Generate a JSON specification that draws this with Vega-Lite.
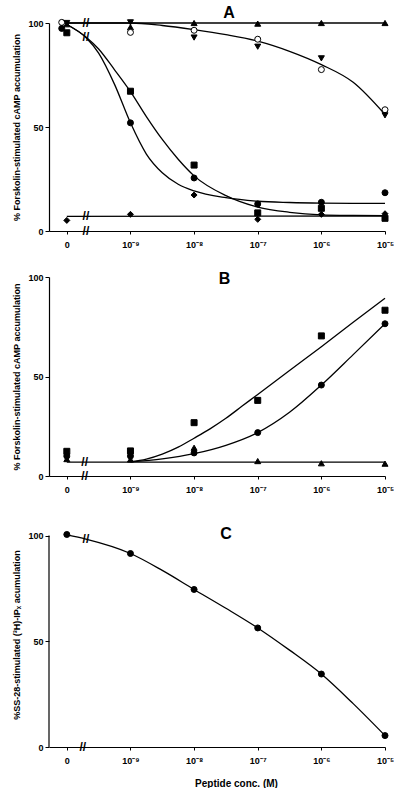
{
  "$schema": "https://vega.github.io/schema/vega-lite/v6.json",
  "padding": {"left": 12, "top": 4, "right": 0, "bottom": 0},
  "bounds": "flush",
  "spacing": 46,
  "datasets": {
    "A_pts": [
      {"s": "tri_up", "x": 0, "y": 99.4}, {"s": "tri_up", "x": 1, "y": 98}, {"s": "tri_up", "x": 2, "y": 100}, {"s": "tri_up", "x": 3, "y": 99.7}, {"s": "tri_up", "x": 4, "y": 100}, {"s": "tri_up", "x": 5, "y": 100},
      {"s": "open_circle", "x": -0.08, "y": 100.3}, {"s": "open_circle", "x": 1, "y": 95.5}, {"s": "open_circle", "x": 2, "y": 96.5}, {"s": "open_circle", "x": 3, "y": 92.2}, {"s": "open_circle", "x": 4, "y": 77.6}, {"s": "open_circle", "x": 5, "y": 58.3},
      {"s": "tri_down", "x": 0, "y": 100}, {"s": "tri_down", "x": 1, "y": 100.3}, {"s": "tri_down", "x": 2, "y": 93}, {"s": "tri_down", "x": 3, "y": 88.6}, {"s": "tri_down", "x": 4, "y": 83}, {"s": "tri_down", "x": 5, "y": 55.6},
      {"s": "square", "x": 0, "y": 95.3}, {"s": "square", "x": 1, "y": 67.2}, {"s": "square", "x": 2, "y": 31.7}, {"s": "square", "x": 3, "y": 8.7}, {"s": "square", "x": 4, "y": 10.9}, {"s": "square", "x": 5, "y": 6.1},
      {"s": "circle", "x": -0.08, "y": 97.4}, {"s": "circle", "x": 1, "y": 52}, {"s": "circle", "x": 2, "y": 25.5}, {"s": "circle", "x": 3, "y": 13}, {"s": "circle", "x": 4, "y": 13.8}, {"s": "circle", "x": 5, "y": 18.4},
      {"s": "diamond", "x": 0, "y": 5.1}, {"s": "diamond", "x": 1, "y": 8}, {"s": "diamond", "x": 2, "y": 17.3}, {"s": "diamond", "x": 3, "y": 5.6}, {"s": "diamond", "x": 4, "y": 8}, {"s": "diamond", "x": 5, "y": 8.3}
    ],
    "A_lines": [
      {"c": "top", "x": 0, "y": 100}, {"c": "top", "x": 5, "y": 100},
      {"c": "open", "x": 0, "y": 100}, {"c": "open", "x": 1, "y": 100}, {"c": "open", "x": 1.5, "y": 98.8}, {"c": "open", "x": 2, "y": 96.8}, {"c": "open", "x": 2.5, "y": 94.4}, {"c": "open", "x": 3, "y": 91.3}, {"c": "open", "x": 3.5, "y": 86.4}, {"c": "open", "x": 4, "y": 80}, {"c": "open", "x": 4.5, "y": 71.5}, {"c": "open", "x": 5, "y": 56},
      {"c": "sq", "x": 0, "y": 99.3}, {"c": "sq", "x": 0.3, "y": 93.3}, {"c": "sq", "x": 0.5, "y": 87.5}, {"c": "sq", "x": 0.75, "y": 77.5}, {"c": "sq", "x": 1, "y": 67}, {"c": "sq", "x": 1.25, "y": 55}, {"c": "sq", "x": 1.5, "y": 44}, {"c": "sq", "x": 1.75, "y": 34.5}, {"c": "sq", "x": 2, "y": 26.5}, {"c": "sq", "x": 2.5, "y": 17}, {"c": "sq", "x": 3, "y": 11.5}, {"c": "sq", "x": 3.5, "y": 9}, {"c": "sq", "x": 4, "y": 7.8}, {"c": "sq", "x": 4.5, "y": 7.5}, {"c": "sq", "x": 5, "y": 7.4},
      {"c": "circ", "x": 0, "y": 99.3}, {"c": "circ", "x": 0.3, "y": 93}, {"c": "circ", "x": 0.5, "y": 85.5}, {"c": "circ", "x": 0.75, "y": 70.5}, {"c": "circ", "x": 1, "y": 52}, {"c": "circ", "x": 1.25, "y": 37}, {"c": "circ", "x": 1.5, "y": 28}, {"c": "circ", "x": 1.75, "y": 22.5}, {"c": "circ", "x": 2, "y": 19.3}, {"c": "circ", "x": 2.5, "y": 16}, {"c": "circ", "x": 3, "y": 14.3}, {"c": "circ", "x": 3.5, "y": 13.7}, {"c": "circ", "x": 4, "y": 13.4}, {"c": "circ", "x": 4.5, "y": 13.3}, {"c": "circ", "x": 5, "y": 13.3},
      {"c": "bottom", "x": 0, "y": 7}, {"c": "bottom", "x": 5, "y": 7.2}
    ],
    "A_breaks": [
      {"x": 0.3, "y": 100}, {"x": 0.3, "y": 93.2}, {"x": 0.3, "y": 7}, {"x": 0.3, "y": 0}
    ],
    "B_pts": [
      {"s": "square", "x": 0, "y": 12.4}, {"s": "square", "x": 1, "y": 12.6}, {"s": "square", "x": 2, "y": 26.8}, {"s": "square", "x": 3, "y": 38}, {"s": "square", "x": 4, "y": 70.4}, {"s": "square", "x": 5, "y": 83.3},
      {"s": "circle", "x": 0, "y": 10}, {"s": "circle", "x": 1, "y": 10}, {"s": "circle", "x": 2, "y": 11.6}, {"s": "circle", "x": 3, "y": 21.8}, {"s": "circle", "x": 4, "y": 45.7}, {"s": "circle", "x": 5, "y": 76.5},
      {"s": "tri_up", "x": 0, "y": 8.5}, {"s": "tri_up", "x": 1, "y": 8.3}, {"s": "tri_up", "x": 2, "y": 14.2}, {"s": "tri_up", "x": 3, "y": 7.5}, {"s": "tri_up", "x": 4, "y": 6.4}, {"s": "tri_up", "x": 5, "y": 6.2}
    ],
    "B_lines": [
      {"c": "flat", "x": 0, "y": 7}, {"c": "flat", "x": 5, "y": 7},
      {"c": "sq", "x": 1, "y": 7.2}, {"c": "sq", "x": 1.25, "y": 8.5}, {"c": "sq", "x": 1.5, "y": 11}, {"c": "sq", "x": 1.75, "y": 14.5}, {"c": "sq", "x": 2, "y": 19}, {"c": "sq", "x": 2.25, "y": 23.7}, {"c": "sq", "x": 2.5, "y": 29}, {"c": "sq", "x": 2.75, "y": 35}, {"c": "sq", "x": 3, "y": 41}, {"c": "sq", "x": 3.5, "y": 53}, {"c": "sq", "x": 4, "y": 65}, {"c": "sq", "x": 4.5, "y": 77.3}, {"c": "sq", "x": 5, "y": 89.3},
      {"c": "circ", "x": 1, "y": 7.1}, {"c": "circ", "x": 1.5, "y": 8.6}, {"c": "circ", "x": 2, "y": 11.2}, {"c": "circ", "x": 2.5, "y": 15.4}, {"c": "circ", "x": 3, "y": 21.8}, {"c": "circ", "x": 3.5, "y": 32}, {"c": "circ", "x": 4, "y": 45.7}, {"c": "circ", "x": 4.5, "y": 61}, {"c": "circ", "x": 5, "y": 76.5}
    ],
    "B_breaks": [
      {"x": 0.28, "y": 7}, {"x": 0.28, "y": 0}
    ],
    "C_pts": [
      {"s": "circle", "x": 0, "y": 100.5}, {"s": "circle", "x": 1, "y": 91.5}, {"s": "circle", "x": 2, "y": 74.5}, {"s": "circle", "x": 3, "y": 56.3}, {"s": "circle", "x": 4, "y": 34.5}, {"s": "circle", "x": 5, "y": 5.4}
    ],
    "C_lines": [
      {"c": "fit", "x": 0, "y": 100.3}, {"c": "fit", "x": 0.3, "y": 98.3}, {"c": "fit", "x": 1, "y": 91.5}, {"c": "fit", "x": 1.5, "y": 83.5}, {"c": "fit", "x": 2, "y": 74.5}, {"c": "fit", "x": 2.5, "y": 65.6}, {"c": "fit", "x": 3, "y": 56.3}, {"c": "fit", "x": 3.5, "y": 45.8}, {"c": "fit", "x": 4, "y": 34.5}, {"c": "fit", "x": 4.5, "y": 20.5}, {"c": "fit", "x": 5, "y": 5.4}
    ],
    "C_breaks": [
      {"x": 0.3, "y": 98.2}, {"x": 0.25, "y": 0}
    ],
    "labels": [
      {"panel": "A", "x": 2.55, "y": 102.5},
      {"panel": "B", "x": 2.48, "y": 96.3},
      {"panel": "C", "x": 2.5, "y": 98.2}
    ]
  },
  "vconcat": [
    {
      "width": 336,
      "height": 208,
      "layer": [
        {
          "data": {"name": "A_lines"},
          "mark": {"type": "line", "interpolate": "monotone", "color": "black", "strokeWidth": 1.3},
          "encoding": {
            "x": {"field": "x", "type": "quantitative", "scale": {"domain": [-0.28, 5], "nice": false, "zero": false},
                  "axis": {"values": [0, 1, 2, 3, 4, 5], "labelExpr": "datum.value == 0 ? '0' : '10' + ['', '⁻⁹', '⁻⁸', '⁻⁷', '⁻⁶', '⁻⁵'][datum.value]", "tickSize": 3, "labelPadding": 6, "labelFlush": false, "title": null}},
            "y": {"field": "y", "type": "quantitative", "scale": {"domain": [0, 100], "nice": false},
                  "axis": {"values": [0, 50, 100], "tickSize": 4, "labelPadding": 2, "title": "% Forskolin-stimulated cAMP accumulation", "titlePadding": 6}},
            "detail": {"field": "c", "type": "nominal"}
          }
        },
        {
          "data": {"name": "A_pts"},
          "mark": {"type": "point", "filled": true, "stroke": "black", "strokeWidth": 1, "size": 36, "opacity": 1},
          "encoding": {
            "x": {"field": "x", "type": "quantitative"},
            "y": {"field": "y", "type": "quantitative"},
            "shape": {"field": "s", "type": "nominal", "legend": null, "scale": {"domain": ["tri_up", "open_circle", "tri_down", "square", "circle", "diamond"], "range": ["triangle-up", "circle", "triangle-down", "square", "circle", "diamond"]}},
            "fill": {"field": "s", "type": "nominal", "legend": null, "scale": {"domain": ["tri_up", "open_circle", "tri_down", "square", "circle", "diamond"], "range": ["black", "white", "black", "black", "black", "black"]}}
          }
        },
        {
          "data": {"name": "A_breaks"},
          "mark": {"type": "text", "text": "//", "font": "Liberation Sans", "fontWeight": "bold", "fontSize": 12, "baseline": "middle", "align": "center", "color": "black"},
          "encoding": {"x": {"field": "x", "type": "quantitative"}, "y": {"field": "y", "type": "quantitative"}}
        },
        {
          "data": {"name": "labels"},
          "transform": [{"filter": "datum.panel == 'A'"}],
          "mark": {"type": "text", "font": "Liberation Sans", "fontWeight": "bold", "fontSize": 16, "baseline": "alphabetic", "align": "center", "color": "black"},
          "encoding": {"x": {"field": "x", "type": "quantitative"}, "y": {"field": "y", "type": "quantitative"}, "text": {"field": "panel", "type": "nominal"}}
        }
      ]
    },
    {
      "width": 336,
      "height": 199,
      "layer": [
        {
          "data": {"name": "B_lines"},
          "mark": {"type": "line", "interpolate": "monotone", "color": "black", "strokeWidth": 1.3},
          "encoding": {
            "x": {"field": "x", "type": "quantitative", "scale": {"domain": [-0.28, 5], "nice": false, "zero": false},
                  "axis": {"values": [0, 1, 2, 3, 4, 5], "labelExpr": "datum.value == 0 ? '0' : '10' + ['', '⁻⁹', '⁻⁸', '⁻⁷', '⁻⁶', '⁻⁵'][datum.value]", "tickSize": 3, "labelPadding": 6, "labelFlush": false, "title": null}},
            "y": {"field": "y", "type": "quantitative", "scale": {"domain": [0, 100], "nice": false},
                  "axis": {"values": [0, 50, 100], "tickSize": 4, "labelPadding": 2, "title": "% Forskolin-stimulated cAMP accumulation", "titlePadding": 6}},
            "detail": {"field": "c", "type": "nominal"}
          }
        },
        {
          "data": {"name": "B_pts"},
          "mark": {"type": "point", "filled": true, "stroke": "black", "strokeWidth": 1, "size": 36, "opacity": 1},
          "encoding": {
            "x": {"field": "x", "type": "quantitative"},
            "y": {"field": "y", "type": "quantitative"},
            "shape": {"field": "s", "type": "nominal", "legend": null, "scale": {"domain": ["tri_up", "square", "circle"], "range": ["triangle-up", "square", "circle"]}},
            "fill": {"value": "black"}
          }
        },
        {
          "data": {"name": "B_breaks"},
          "mark": {"type": "text", "text": "//", "font": "Liberation Sans", "fontWeight": "bold", "fontSize": 12, "baseline": "middle", "align": "center", "color": "black"},
          "encoding": {"x": {"field": "x", "type": "quantitative"}, "y": {"field": "y", "type": "quantitative"}}
        },
        {
          "data": {"name": "labels"},
          "transform": [{"filter": "datum.panel == 'B'"}],
          "mark": {"type": "text", "font": "Liberation Sans", "fontWeight": "bold", "fontSize": 16, "baseline": "alphabetic", "align": "center", "color": "black"},
          "encoding": {"x": {"field": "x", "type": "quantitative"}, "y": {"field": "y", "type": "quantitative"}, "text": {"field": "panel", "type": "nominal"}}
        }
      ]
    },
    {
      "width": 336,
      "height": 225,
      "layer": [
        {
          "data": {"name": "C_lines"},
          "mark": {"type": "line", "interpolate": "monotone", "color": "black", "strokeWidth": 1.3},
          "encoding": {
            "x": {"field": "x", "type": "quantitative", "scale": {"domain": [-0.28, 5], "nice": false, "zero": false},
                  "axis": {"values": [0, 1, 2, 3, 4, 5], "labelExpr": "datum.value == 0 ? '0' : '10' + ['', '⁻⁹', '⁻⁸', '⁻⁷', '⁻⁶', '⁻⁵'][datum.value]", "tickSize": 3, "labelPadding": 6, "labelFlush": false, "title": "Peptide conc. (M)", "titleFontSize": 10, "titleX": 187, "titleY": 39, "titleAlign": "center", "titleBaseline": "alphabetic"}},
            "y": {"field": "y", "type": "quantitative", "scale": {"domain": [0, 106.4], "nice": false},
                  "axis": {"values": [0, 50, 100], "tickSize": 4, "labelPadding": 2, "domain": false, "title": "%SS-28-stimulated (³H)-IPₓ acumulation", "titlePadding": 6}},
            "detail": {"field": "c", "type": "nominal"}
          }
        },
        {
          "data": {"values": [{"lo": 0, "hi": 100, "left": -0.28}]},
          "mark": {"type": "rule", "color": "black", "strokeWidth": 1.2},
          "encoding": {"x": {"field": "left", "type": "quantitative"}, "y": {"field": "lo", "type": "quantitative"}, "y2": {"field": "hi"}}
        },
        {
          "data": {"name": "C_pts"},
          "mark": {"type": "point", "filled": true, "stroke": "black", "strokeWidth": 1, "size": 36, "opacity": 1, "shape": "circle"},
          "encoding": {
            "x": {"field": "x", "type": "quantitative"},
            "y": {"field": "y", "type": "quantitative"},
            "fill": {"value": "black"}
          }
        },
        {
          "data": {"name": "C_breaks"},
          "mark": {"type": "text", "text": "//", "font": "Liberation Sans", "fontWeight": "bold", "fontSize": 12, "baseline": "middle", "align": "center", "color": "black"},
          "encoding": {"x": {"field": "x", "type": "quantitative"}, "y": {"field": "y", "type": "quantitative"}}
        },
        {
          "data": {"name": "labels"},
          "transform": [{"filter": "datum.panel == 'C'"}],
          "mark": {"type": "text", "font": "Liberation Sans", "fontWeight": "bold", "fontSize": 16, "baseline": "alphabetic", "align": "center", "color": "black"},
          "encoding": {"x": {"field": "x", "type": "quantitative"}, "y": {"field": "y", "type": "quantitative"}, "text": {"field": "panel", "type": "nominal"}}
        }
      ]
    }
  ],
  "config": {
    "view": {"stroke": null},
    "axis": {
      "grid": false,
      "domainColor": "black",
      "tickColor": "black",
      "labelColor": "black",
      "titleColor": "black",
      "domainWidth": 1.2,
      "tickWidth": 1,
      "labelFont": "Liberation Sans",
      "titleFont": "Liberation Sans",
      "labelFontSize": 9,
      "titleFontSize": 9,
      "labelFontWeight": "bold",
      "titleFontWeight": "bold"
    }
  }
}
